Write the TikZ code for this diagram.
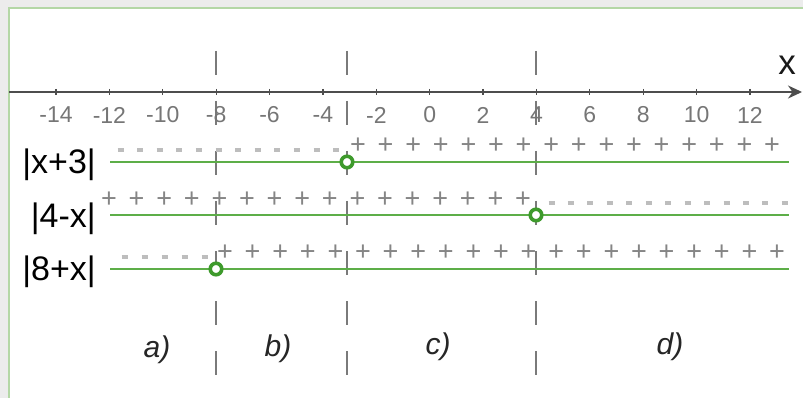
\documentclass[tikz,border=0pt]{standalone}
\usepackage{fontspec}
\setmainfont{Liberation Sans}
\usetikzlibrary{arrows.meta}
\definecolor{bggray}{HTML}{ECECEC}
\definecolor{panelgreen}{HTML}{B4D7A6}
\definecolor{axisgray}{HTML}{4D4D4D}
\definecolor{ticktext}{HTML}{767676}
\definecolor{linegreen}{HTML}{5DAE48}
\definecolor{dotgreen}{HTML}{3E9A2C}
\definecolor{plusgray}{HTML}{858585}
\definecolor{minusgray}{HTML}{BDBDBD}
\definecolor{vdash}{HTML}{7A7A7A}
\begin{document}
\begin{tikzpicture}[x=1pt,y=-1pt,
  axisline/.style={draw=axisgray, line width=1.4pt},
  tickmark/.style={draw=axisgray, line width=1.2pt},
  ticklabel/.style={text=ticktext, font=\fontsize{23}{26}\selectfont, inner sep=0pt},
  rowlabel/.style={anchor=east, inner sep=0pt, font=\fontsize{34}{40}\selectfont},
  signline/.style={draw=linegreen, line width=2pt},
  zero/.style={circle, draw=dotgreen, fill=white, line width=3.6pt, minimum size=11.5pt, inner sep=0pt},
  plussign/.style={text=plusgray, font=\fontsize{27}{30}\selectfont, inner sep=0pt},
  minussign/.style={draw=minusgray, line width=3.5pt},
  divider/.style={draw=vdash, line width=1.5pt, dash pattern=on 24pt off 26pt},
  region/.style={font=\itshape\fontsize{30}{36}\selectfont, text=black!85, inner sep=0pt}]
\useasboundingbox (0,0) rectangle (803,398);
% background and panel
\fill[bggray] (0,0) rectangle (803,398);
\fill[white] (9,8) rectangle (803,398);
\draw[panelgreen, line width=1.2pt] (9,398) -- (9,8) -- (803,8);
% vertical dividers
\coordinate (d1t) at (216,51); \coordinate (d1b) at (216,376);
\coordinate (d2t) at (347,51); \coordinate (d2b) at (347,376);
\coordinate (d3t) at (536,51); \coordinate (d3b) at (536,376);
\draw[divider] (d1t) -- (d1b);
\draw[divider] (d2t) -- (d2b);
\draw[divider] (d3t) -- (d3b);
% axis
\coordinate (axs) at (9,92); \coordinate (axe) at (802,92);
\draw[axisline, -{Stealth[length=14pt,width=13pt]}] (axs) -- (axe);
\node[font=\fontsize{35}{40}\selectfont, text=black!90, inner sep=0pt] (xlab) at (787,65) {x};
\foreach \v in {-14,-12,...,12} {
  \pgfmathsetmacro\px{429.7+26.69*\v}
  \draw[tickmark] (\px,89) -- (\px,95);
  \node[ticklabel] (t\v) at (\px,115) {\v};
}
% sign lines
\coordinate (r1s) at (110,162); \coordinate (r1e) at (789,162);
\coordinate (r2s) at (110,215); \coordinate (r2e) at (789,215);
\coordinate (r3s) at (110,269); \coordinate (r3e) at (789,269);
\draw[signline] (r1s) -- (r1e);
\draw[signline] (r2s) -- (r2e);
\draw[signline] (r3s) -- (r3e);
% row labels
\node[rowlabel] (l1) at (96,165) {|x+3|};
\node[rowlabel] (l2) at (96,219) {|4-x|};
\node[rowlabel] (l3) at (96,272) {|8+x|};
% row 1 signs
\foreach \i in {0,...,11} \draw[minussign] ({117.5+19.6*\i},150) -- ++(6,0);
\foreach \i in {0,...,15} \node[plussign] (pa\i) at ({358+27.6*\i},146) {+};
% row 2 signs
\foreach \i in {0,...,15} \node[plussign] (pb\i) at ({523-27.6*(15-\i)},200) {+};
\foreach \i in {0,...,12} \draw[minussign] ({548.5+19.45*\i},203) -- ++(6,0);
% row 3 signs
\foreach \i in {0,...,4} \draw[minussign] ({121.5+20*\i},257) -- ++(6,0);
\foreach \i in {0,...,20} \node[plussign] (pc\i) at ({225+27.6*\i},253) {+};
% zeros
\node[zero] (z1) at (347,162) {};
\node[zero] (z2) at (536,215) {};
\node[zero] (z3) at (216,269) {};
% region labels
\node[region] (ra) at (157,350) {a)};
\node[region] (rb) at (278,349) {b)};
\node[region] (rc) at (438,347) {c)};
\node[region] (rd) at (670,347) {d)};
\end{tikzpicture}
\end{document}
